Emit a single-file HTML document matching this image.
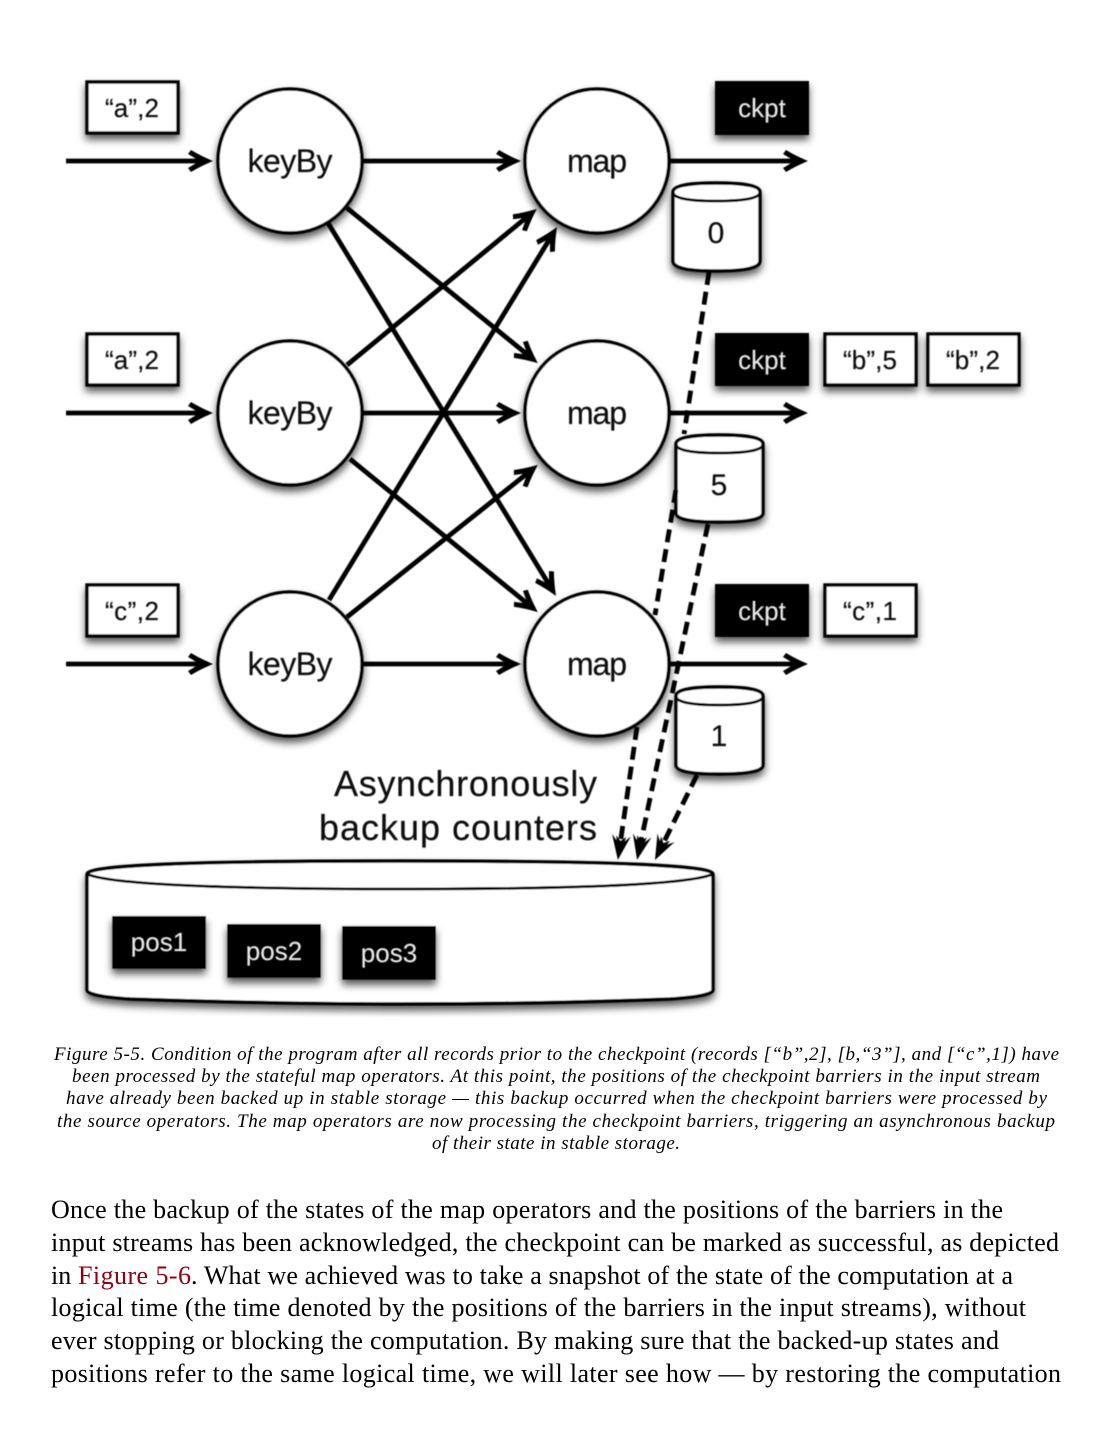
<!DOCTYPE html>
<html><head><meta charset="utf-8"><style>
html,body{margin:0;padding:0;background:#fff;width:1113px;height:1440px;overflow:hidden}
svg{display:block}
.n{font-family:"Liberation Sans",sans-serif;fill:#111;stroke:#111;stroke-width:.2;text-anchor:middle}
.w{font-family:"Liberation Sans",sans-serif;fill:#e6e6e6;stroke:#e6e6e6;stroke-width:.15;text-anchor:middle}
.c{font-family:"Liberation Serif",serif;font-style:italic;font-size:19px;fill:#000}
.b{font-family:"Liberation Serif",serif;font-size:26px;fill:#000}
</style></head><body>
<svg width="1113" height="1440" viewBox="0 0 1113 1440" xmlns="http://www.w3.org/2000/svg">
<defs>
<filter id="s" x="-30%" y="-30%" width="160%" height="170%"><feDropShadow dx="0" dy="5" stdDeviation="4" flood-color="#000" flood-opacity=".65"/></filter>
<filter id="soft"><feGaussianBlur stdDeviation=".45"/></filter>
<marker id="a" markerUnits="userSpaceOnUse" markerWidth="34" markerHeight="30" refX="23" refY="15" orient="auto" overflow="visible">
<path d="M28 15Q16 10 6 4L3 8Q10 12 14 15Q10 18 3 22L6 26Q16 20 28 15Z" fill="#000"/>
</marker>
<marker id="d" markerUnits="userSpaceOnUse" markerWidth="34" markerHeight="30" refX="20" refY="15" orient="auto" overflow="visible">
<path d="M28 15L3 5.5L9 11L4 10L9 15L4 20L9 19L3 24.5Z" fill="#000"/>
</marker>
</defs>
<g filter="url(#soft)">
<g fill="#fff" stroke="#000" stroke-width="3.4" filter="url(#s)">
<rect x="87" y="82" width="91" height="51"/>
<rect x="87" y="334" width="91" height="51"/>
<rect x="87" y="585" width="91" height="51"/>
<rect x="825" y="334" width="91" height="51"/>
<rect x="928" y="334" width="91" height="51"/>
<rect x="825" y="585" width="91" height="51"/>
<rect x="715" y="81" width="94" height="54" fill="#000" stroke="none"/>
<rect x="715" y="333" width="94" height="53" fill="#000" stroke="none"/>
<rect x="715" y="584" width="94" height="53" fill="#000" stroke="none"/>
</g>
<g fill="none" stroke="#000" stroke-width="4.8">
<path d="M66 161H208" marker-end="url(#a)"/>
<path d="M66 413H208" marker-end="url(#a)"/>
<path d="M66 664H208" marker-end="url(#a)"/>
<path d="M363 161H516" marker-end="url(#a)"/>
<path d="M363 413H516" marker-end="url(#a)"/>
<path d="M363 664H516" marker-end="url(#a)"/>
<path d="M669 161H803" marker-end="url(#a)"/>
<path d="M669 413H803" marker-end="url(#a)"/>
<path d="M669 664H803" marker-end="url(#a)"/>
<path d="M347 208L534 360" marker-end="url(#a)"/>
<path d="M328 223L553.4 591.7" marker-end="url(#a)"/>
<path d="M347 365L533 212" marker-end="url(#a)"/>
<path d="M350 459L534 609" marker-end="url(#a)"/>
<path d="M329 600L554.4 231.3" marker-end="url(#a)"/>
<path d="M347 617L534 468" marker-end="url(#a)"/>
<path d="M709 272L684 434" stroke-dasharray="13 7"/>
</g>
<g fill="#fff" stroke="#000" stroke-width="3.4" filter="url(#s)">
<circle cx="290" cy="161" r="72"/>
<circle cx="290" cy="413" r="72"/>
<circle cx="290" cy="664" r="72"/>
<circle cx="597" cy="161" r="72"/>
<circle cx="597" cy="413" r="72"/>
<circle cx="597" cy="664" r="72"/>
</g>
<g fill="#fff" stroke="#000" stroke-width="3.4" filter="url(#s)">
<path d="M673 192V261Q673 271 716 271Q760 271 760 261V192Q760 183 716 183Q673 183 673 192Z"/>
<path d="M676 444V513Q676 522 719 522Q763 522 763 513V444Q763 435 719 435Q676 435 676 444Z"/>
<path d="M676 696V765Q676 774 719 774Q763 774 763 765V696Q763 687 719 687Q676 687 676 696Z"/>
<path d="M87 874V990Q87 996 130 999Q280 1004 400 1004Q540 1004 670 999Q713 996 713 990V874Q713 861 400 861Q87 861 87 874Z"/>
</g>
<g fill="none" stroke="#000" stroke-width="2.8">
<path d="M673 192Q673 201 716 201Q760 201 760 192"/>
<path d="M676 444Q676 453 719 453Q763 453 763 444"/>
<path d="M676 696Q676 705 719 705Q763 705 763 696"/>
<path d="M87 874Q120 889 400 889Q680 889 713 874"/>
</g>
<g fill="none" stroke="#000" stroke-width="4.8" stroke-dasharray="13 7">
<path d="M676 490L655 615"/>
<path d="M637 727L619 852" marker-end="url(#d)"/>
<path d="M708 524L638.7 852" marker-end="url(#d)"/>
<path d="M697 775L658.5 853" marker-end="url(#d)"/>
</g>
<g fill="#000" filter="url(#s)">
<rect x="112" y="916" width="94" height="53"/>
<rect x="227" y="924" width="94" height="54"/>
<rect x="342" y="926" width="94" height="54"/>
</g>
</g>
<g filter="url(#soft)">
<g font-size="26">
<text class="n" x="132" y="117" textLength="54">“a”,2</text>
<text class="n" x="132" y="369" textLength="54">“a”,2</text>
<text class="n" x="132" y="620" textLength="54">“c”,2</text>
<text class="n" x="870" y="369" textLength="54">“b”,5</text>
<text class="n" x="973" y="369" textLength="54">“b”,2</text>
<text class="n" x="870" y="620" textLength="54">“c”,1</text>
<text class="w" x="762" y="117">ckpt</text>
<text class="w" x="762" y="369">ckpt</text>
<text class="w" x="762" y="620">ckpt</text>
<text class="w" x="159" y="951">pos1</text>
<text class="w" x="274" y="960">pos2</text>
<text class="w" x="389" y="962">pos3</text>
</g>
<g font-size="32">
<text class="n" x="290" y="172" textLength="85">keyBy</text>
<text class="n" x="290" y="424" textLength="85">keyBy</text>
<text class="n" x="290" y="675" textLength="85">keyBy</text>
<text class="n" x="597" y="172" textLength="60">map</text>
<text class="n" x="597" y="424" textLength="60">map</text>
<text class="n" x="597" y="675" textLength="60">map</text>
<text class="n" x="716" y="243" font-size="30">0</text>
<text class="n" x="719" y="495" font-size="30">5</text>
<text class="n" x="719" y="746" font-size="30">1</text>
</g>
<text class="n" x="334" y="796" font-size="36" style="text-anchor:start" textLength="263">Asynchronously</text>
<text class="n" x="319" y="840" font-size="36" style="text-anchor:start" textLength="278">backup counters</text>
</g>
<text class="c" x="54" y="1060" textLength="1005">Figure 5-5. Condition of the program after all records prior to the checkpoint (records [“b”,2], [b,“3”], and [“c”,1]) have</text>
<text class="c" x="72" y="1082" textLength="968">been processed by the stateful map operators. At this point, the positions of the checkpoint barriers in the input stream</text>
<text class="c" x="66" y="1104" textLength="981">have already been backed up in stable storage — this backup occurred when the checkpoint barriers were processed by</text>
<text class="c" x="57" y="1127" textLength="998">the source operators. The map operators are now processing the checkpoint barriers, triggering an asynchronous backup</text>
<text class="c" x="432" y="1149" textLength="248">of their state in stable storage.</text>
<text class="b" x="51" y="1218" textLength="952">Once the backup of the states of the map operators and the positions of the barriers in the</text>
<text class="b" x="51" y="1251" textLength="1008">input streams has been acknowledged, the checkpoint can be marked as successful, as depicted</text>
<text class="b" x="51" y="1284">in</text>
<text class="b" x="78" y="1284" textLength="113" style="fill:#8e0012">Figure 5-6</text>
<text class="b" x="191" y="1284" textLength="822">. What we achieved was to take a snapshot of the state of the computation at a</text>
<text class="b" x="51" y="1316" textLength="975">logical time (the time denoted by the positions of the barriers in the input streams), without</text>
<text class="b" x="51" y="1349" textLength="948">ever stopping or blocking the computation. By making sure that the backed-up states and</text>
<text class="b" x="51" y="1382" textLength="1010">positions refer to the same logical time, we will later see how — by restoring the computation</text>
</svg>
</body></html>
